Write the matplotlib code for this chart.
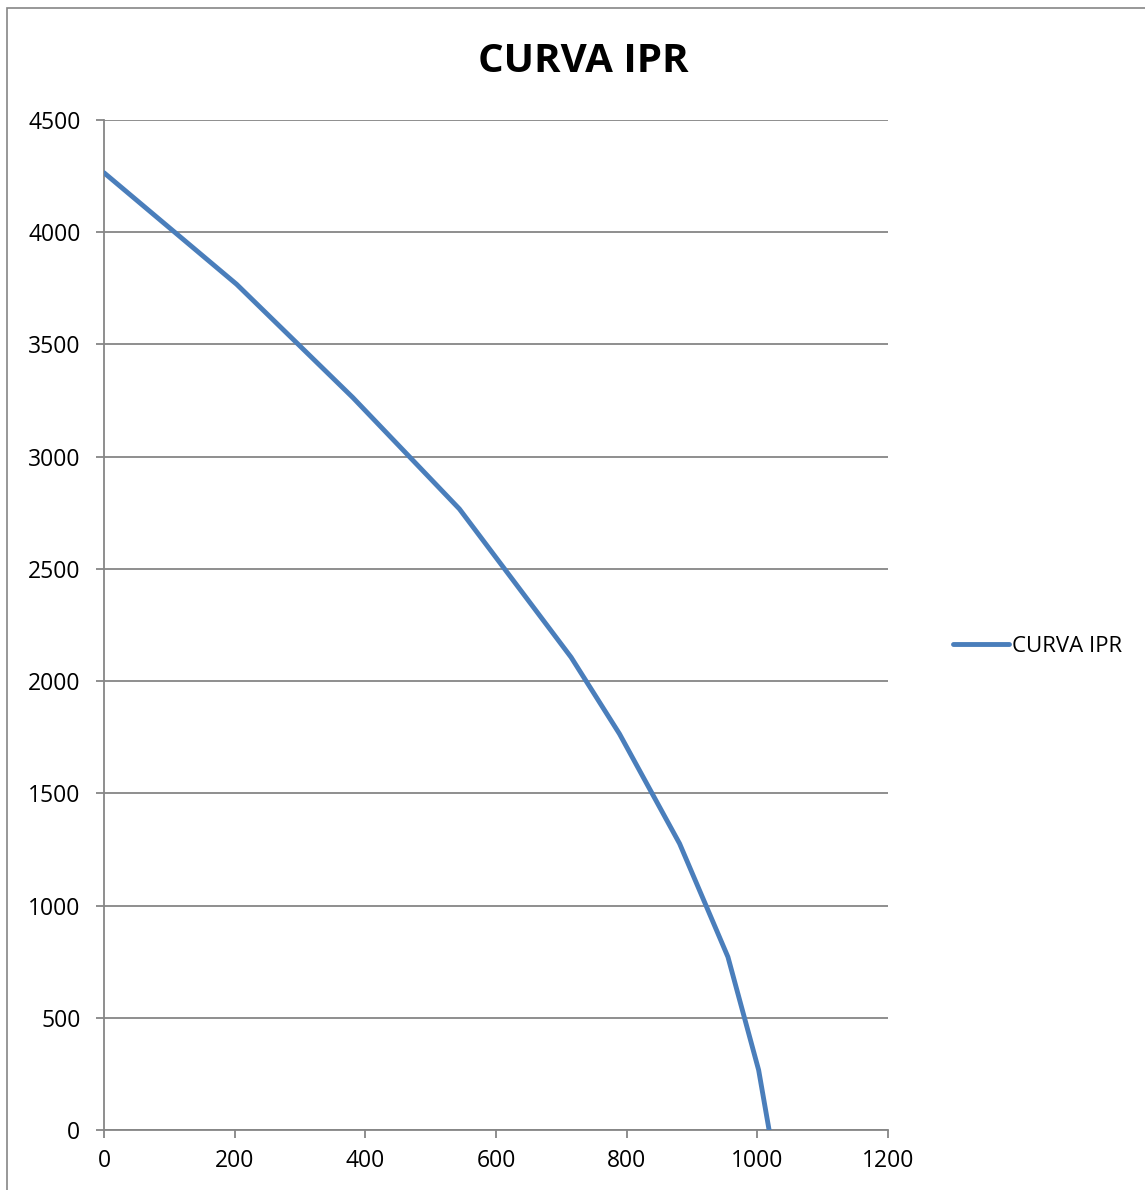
import matplotlib
matplotlib.use("Agg")
import matplotlib.pyplot as plt
from matplotlib.patches import Rectangle

# Data
caudal = [0, 203, 381, 544, 715, 789, 881, 955, 1002, 1018]
presion = [4265, 3768, 3263, 2767, 2106, 1765, 1276, 771, 267, 0]
serie = "CURVA IPR"
titulo = "CURVA IPR"
xticks = [0, 200, 400, 600, 800, 1000, 1200]
yticks = [0, 500, 1000, 1500, 2000, 2500, 3000, 3500, 4000, 4500]

plt.rcParams['font.family'] = ['Open Sans', 'DejaVu Sans']

W, H = 1145, 1190
fig = plt.figure(figsize=(W / 100, H / 100), dpi=100)
fig.patch.set_facecolor('white')

# outer chart border
fig.add_artist(Rectangle((7 / W, -0.1), 1.2, (H - 8) / H + 0.1, transform=fig.transFigure,
                         fill=False, edgecolor='#868686', linewidth=1.2))

left, right, top, bottom = 104, 888, 120, 1130
ax = fig.add_axes([left / W, 1 - bottom / H, (right - left) / W, (bottom - top) / H])

grid_c = '#868686'
ax.plot(caudal, presion, color='#4A7EBB', linewidth=3.5, label=serie,
        solid_capstyle='round', solid_joinstyle='round', zorder=3)

ax.set_xlim(0, 1200)
ax.set_ylim(0, 4500)
ax.set_xticks(xticks)
ax.set_yticks(yticks)
ax.set_xticklabels([str(v) for v in xticks])
ax.set_yticklabels([str(v) for v in yticks])
ax.yaxis.grid(True, color=grid_c, linewidth=1.3)
ax.set_axisbelow(True)
for s in ['top', 'right']:
    ax.spines[s].set_visible(False)
for s in ['left', 'bottom']:
    ax.spines[s].set_color(grid_c)
    ax.spines[s].set_linewidth(1.3)
ax.tick_params(axis='both', direction='out', length=6, width=1.3, color=grid_c,
               labelsize=16.5, labelcolor='black')
ax.tick_params(axis='x', pad=8)
ax.tick_params(axis='y', pad=11)

fig.text(583 / W, 1 - 61 / H, titulo, ha='center', va='center',
         fontsize=29, fontweight='bold')

ax.legend(loc='center left', bbox_to_anchor=(953 / W, 1 - 646 / H),
          bbox_transform=fig.transFigure, frameon=False, fontsize=16,
          handlelength=2.5, handletextpad=0.15, borderpad=0, borderaxespad=0)

fig.savefig('out.png', dpi=100)
